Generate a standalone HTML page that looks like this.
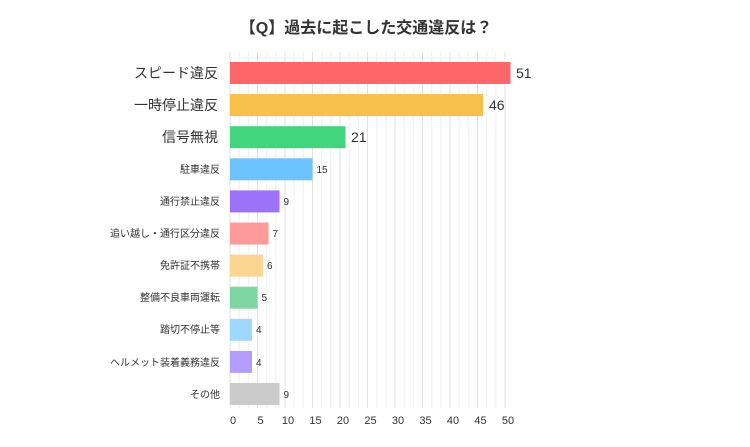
<!DOCTYPE html>
<html><head><meta charset="utf-8"><style>
body{margin:0;width:750px;height:442px;background:#fff;overflow:hidden}
svg text{font-family:"Liberation Sans","Noto Sans CJK JP",sans-serif;fill:#333}
</style></head><body>
<svg width="750" height="442" xmlns="http://www.w3.org/2000/svg">
<text x="366" y="33" font-size="16" font-weight="bold" text-anchor="middle">【Q】過去に起こした交通違反は？</text>
<g stroke="#f0f0f0" stroke-width="1">
<line x1="239.2" y1="52" x2="239.2" y2="408"/><line x1="248.3" y1="52" x2="248.3" y2="408"/>
<line x1="266.7" y1="52" x2="266.7" y2="408"/><line x1="275.8" y1="52" x2="275.8" y2="408"/>
<line x1="294.2" y1="52" x2="294.2" y2="408"/><line x1="303.3" y1="52" x2="303.3" y2="408"/>
<line x1="321.7" y1="52" x2="321.7" y2="408"/><line x1="330.8" y1="52" x2="330.8" y2="408"/>
<line x1="349.2" y1="52" x2="349.2" y2="408"/><line x1="358.3" y1="52" x2="358.3" y2="408"/>
<line x1="376.7" y1="52" x2="376.7" y2="408"/><line x1="385.8" y1="52" x2="385.8" y2="408"/>
<line x1="404.2" y1="52" x2="404.2" y2="408"/><line x1="413.3" y1="52" x2="413.3" y2="408"/>
<line x1="431.7" y1="52" x2="431.7" y2="408"/><line x1="440.8" y1="52" x2="440.8" y2="408"/>
<line x1="459.2" y1="52" x2="459.2" y2="408"/><line x1="468.3" y1="52" x2="468.3" y2="408"/>
<line x1="486.7" y1="52" x2="486.7" y2="408"/><line x1="495.8" y1="52" x2="495.8" y2="408"/>
</g>
<g stroke="#e0e0e0" stroke-width="1">
<line x1="230" y1="52" x2="230" y2="408"/><line x1="257.5" y1="52" x2="257.5" y2="408"/>
<line x1="285" y1="52" x2="285" y2="408"/><line x1="312.5" y1="52" x2="312.5" y2="408"/>
<line x1="340" y1="52" x2="340" y2="408"/><line x1="367.5" y1="52" x2="367.5" y2="408"/>
<line x1="395" y1="52" x2="395" y2="408"/><line x1="422.5" y1="52" x2="422.5" y2="408"/>
<line x1="450" y1="52" x2="450" y2="408"/><line x1="477.5" y1="52" x2="477.5" y2="408"/>
<line x1="505" y1="52" x2="505" y2="408"/>
</g>
<rect x="230" y="62" width="280.5" height="22" fill="#ff6669"/>
<rect x="230" y="94.1" width="253" height="22" fill="#f8bf4b"/>
<rect x="230" y="126.2" width="115.5" height="22" fill="#43d47e"/>
<rect x="230" y="158.3" width="82.5" height="22" fill="#6cc3fe"/>
<rect x="230" y="190.4" width="49.5" height="22" fill="#9b72f8"/>
<rect x="230" y="222.5" width="38.5" height="22" fill="#ff9a9a"/>
<rect x="230" y="254.6" width="33" height="22" fill="#fbd692"/>
<rect x="230" y="286.7" width="27.5" height="22" fill="#80d6a3"/>
<rect x="230" y="318.8" width="22" height="22" fill="#9fd7fd"/>
<rect x="230" y="350.9" width="22" height="22" fill="#b49cfb"/>
<rect x="230" y="383" width="49.5" height="22" fill="#cbcbcb"/>
<g font-size="14" text-anchor="end">
<text x="218" y="78">スピード違反</text>
<text x="218" y="110">一時停止違反</text>
<text x="218" y="142">信号無視</text>
</g>
<g font-size="14">
<text x="516" y="78">51</text>
<text x="489" y="110">46</text>
<text x="351" y="142">21</text>
</g>
<g font-size="10" text-anchor="end">
<text x="220" y="173">駐車違反</text>
<text x="220" y="205">通行禁止違反</text>
<text x="220" y="237">追い越し・通行区分違反</text>
<text x="220" y="269">免許証不携帯</text>
<text x="220" y="301">整備不良車両運転</text>
<text x="220" y="333">踏切不停止等</text>
<text x="220" y="366">ヘルメット装着義務違反</text>
<text x="220" y="398">その他</text>
</g>
<g font-size="10">
<text x="316.5" y="173">15</text>
<text x="283.5" y="205">9</text>
<text x="272.5" y="237">7</text>
<text x="267" y="269">6</text>
<text x="261.5" y="301">5</text>
<text x="256" y="333">4</text>
<text x="256" y="366">4</text>
<text x="283.5" y="398">9</text>
</g>
<g font-size="11" text-anchor="middle" fill="#444">
<text x="233" y="424">0</text><text x="260.5" y="424">5</text><text x="288" y="424">10</text>
<text x="315.5" y="424">15</text><text x="343" y="424">20</text><text x="370.5" y="424">25</text>
<text x="398" y="424">30</text><text x="425.5" y="424">35</text><text x="453" y="424">40</text>
<text x="480.5" y="424">45</text><text x="508" y="424">50</text>
</g>
</svg>
</body></html>
